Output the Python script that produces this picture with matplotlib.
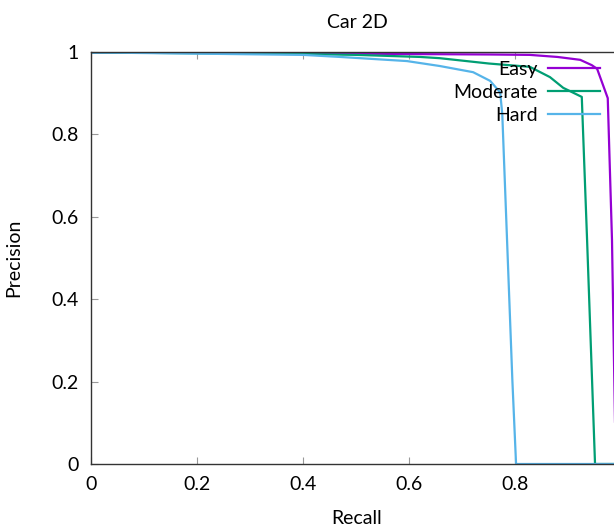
import matplotlib
matplotlib.use("Agg")
import matplotlib.pyplot as plt

# PR curves (recall, precision)
easy_recall = [0.0, 0.2, 0.4, 0.6, 0.75, 0.828, 0.88, 0.923, 0.945, 0.955, 0.975, 0.983, 0.99, 1.0]
easy_prec = [0.999, 0.998, 0.997, 0.995, 0.994, 0.993, 0.988, 0.981, 0.968, 0.959, 0.888, 0.544, 0.0, 0.0]

mod_recall = [0.0, 0.2, 0.4, 0.5, 0.621, 0.658, 0.751, 0.828, 0.866, 0.891, 0.926, 0.936, 0.951, 1.0]
mod_prec = [0.999, 0.997, 0.995, 0.993, 0.988, 0.985, 0.972, 0.964, 0.939, 0.913, 0.891, 0.544, 0.0, 0.0]

hard_recall = [0.0, 0.2, 0.4, 0.47, 0.596, 0.658, 0.721, 0.753, 0.772, 0.776, 0.795, 0.802, 1.0]
hard_prec = [0.999, 0.996, 0.993, 0.988, 0.978, 0.966, 0.951, 0.930, 0.902, 0.849, 0.204, 0.0, 0.0]

labels = ["Easy", "Moderate", "Hard"]
colors = ["#9400d3", "#009e73", "#56b4e9"]
tick_vals = [0, 0.2, 0.4, 0.6, 0.8, 1.0]
tick_text = ["0", "0.2", "0.4", "0.6", "0.8", "1"]

plt.rcParams["font.family"] = ["Lato", "DejaVu Sans"]

fig = plt.figure(figsize=(6.14, 5.30), dpi=100)
# axes runs slightly past the right edge of the picture, as in the reference
ax = fig.add_axes([91 / 614, 66 / 530, 530 / 614, 412 / 530])

ax.plot(easy_recall, easy_prec, color=colors[0], lw=1.6, label=labels[0])
ax.plot(mod_recall, mod_prec, color=colors[1], lw=1.6, label=labels[1])
ax.plot(hard_recall, hard_prec, color=colors[2], lw=1.6, label=labels[2])

ax.set_xlim(0, 1)
ax.set_ylim(0, 1)
ax.set_xticks(tick_vals)
# the "1" label on x sits outside the cropped picture
ax.set_xticklabels(tick_text[:-1] + [""])
ax.set_yticks(tick_vals)
ax.set_yticklabels(tick_text)
ax.tick_params(direction="in", length=5, width=0.8, color="#999999",
               labelsize=14, top=True, right=True, pad=9)
for sp in ax.spines.values():
    sp.set_color("#333333")
    sp.set_linewidth(1.0)

fig.text(357 / 614, 1 - 22 / 530, "Car 2D", ha="center", va="center", fontsize=14)
fig.text(357 / 614, 1 - 518 / 530, "Recall", ha="center", va="center", fontsize=14)
fig.text(14 / 614, 1 - 258 / 530, "Precision", ha="center", va="center",
         rotation=90, fontsize=14)

ax.legend(loc="upper right", bbox_to_anchor=(600 / 614, 1 - 61 / 530),
          bbox_transform=fig.transFigure, frameon=False, markerfirst=False,
          fontsize=14, handlelength=2.7, handletextpad=0.5, labelspacing=0.3,
          borderpad=0, borderaxespad=0)

fig.savefig("out.png", dpi=100)
